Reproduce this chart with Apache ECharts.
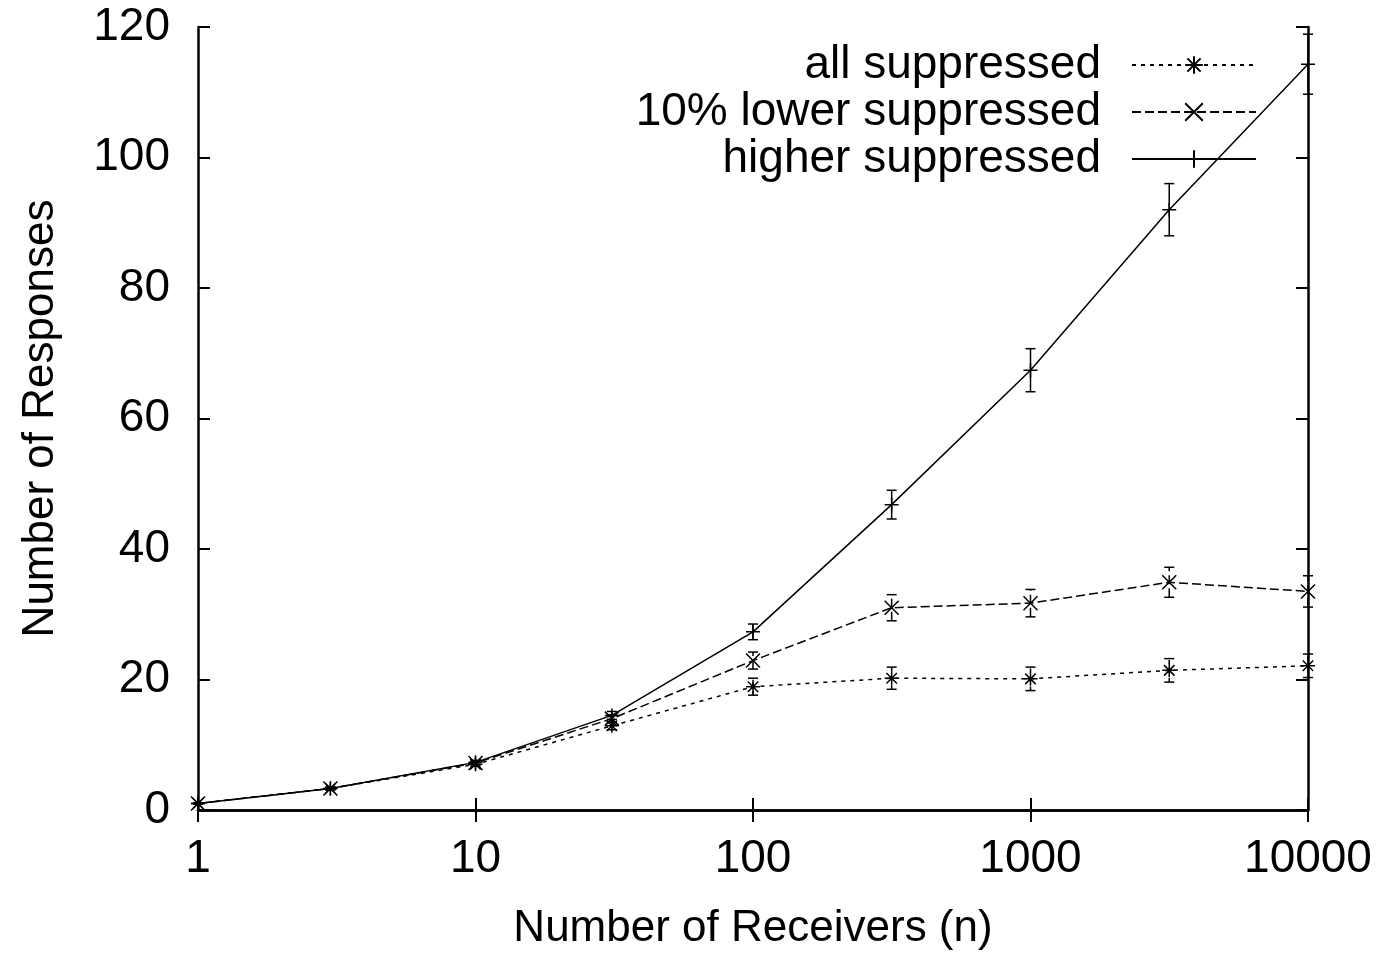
<!DOCTYPE html>
<html>
<head>
<meta charset="utf-8">
<script src="https://cdn.jsdelivr.net/npm/echarts@6/dist/echarts.min.js"></script>
<style>
html,body{margin:0;padding:0;background:#fff;}
#chart{width:1380px;height:956px;}
</style>
</head>
<body>
<div id="chart"></div>
<script>
// ---- data ----
const receivers = [1, 3, 10, 31, 100, 316, 1000, 3162, 10000];
const xTicks = [1, 10, 100, 1000, 10000];
const seriesNames = ['all suppressed', '10% lower suppressed', 'higher suppressed'];
const allSuppressed   = [1.0, 3.3, 7.0, 12.9, 18.9, 20.2, 20.1, 21.4, 22.1];
const allErr          = [0.1, 0.2, 0.3, 0.6, 1.3, 1.7, 1.8, 1.8, 1.8];
const lowerSuppressed = [1.0, 3.3, 7.2, 14.0, 22.9, 31.0, 31.7, 34.9, 33.5];
const lowerErr        = [0.1, 0.2, 0.3, 0.6, 1.3, 2.0, 2.1, 2.3, 2.4];
const higherSuppressed= [1.0, 3.3, 7.3, 14.5, 27.3, 46.8, 67.4, 92.0, 114.3];
const higherErr       = [0.1, 0.2, 0.3, 0.6, 1.2, 2.2, 3.3, 4.0, 4.6];
const yTicks = [0, 20, 40, 60, 80, 100, 120];

const FONT = '"Liberation Sans", Arial, Helvetica, sans-serif';
const FS = 46;     // tick labels and legend
const FS_T = 44;   // axis titles
const dotted = [4, 5];
const dashed = [9, 4];

const asterisk = 'path://M0,6L12,6M6,0L6,12M1.5,1.5L10.5,10.5M10.5,1.5L1.5,10.5';
const cross = 'path://M0,0L12,12M12,0L0,12';
const plus = 'path://M0,6L12,6M6,0L6,12';

function pairs(ys){ return receivers.map((x,i)=>[x, ys[i]]); }
function errData(ys, es){ return receivers.map((x,i)=>[x, ys[i]-es[i], ys[i]+es[i]]); }

function errSeries(name, ys, es, dash){
  return {
    type: 'custom',
    name: name + ' err',
    xAxisIndex: 0, yAxisIndex: 0,
    silent: true,
    z: 3,
    data: errData(ys, es),
    renderItem: function(params, api){
      const x = api.value(0);
      const lo = api.coord([x, api.value(1)]);
      const hi = api.coord([x, api.value(2)]);
      const w = 5;
      const style = {stroke: '#000', lineWidth: 1.5, lineDash: dash, fill: null};
      return {
        type: 'group',
        children: [
          {type:'line', shape:{x1:lo[0], y1:lo[1], x2:hi[0], y2:hi[1]}, style: style},
          {type:'line', shape:{x1:hi[0]-w, y1:hi[1], x2:hi[0]+w, y2:hi[1]}, style: {stroke:'#000', lineWidth:1.5}},
          {type:'line', shape:{x1:lo[0]-w, y1:lo[1], x2:lo[0]+w, y2:lo[1]}, style: {stroke:'#000', lineWidth:1.5}}
        ]
      };
    }
  };
}

function lineSeries(name, ys, dash, sym){
  return {
    type: 'line',
    name: name,
    xAxisIndex: 0, yAxisIndex: 0,
    data: pairs(ys),
    symbol: sym,
    symbolSize: 14,
    showAllSymbol: true,
    z: 4,
    lineStyle: {color: '#000', width: 1.5, type: dash},
    itemStyle: {color: 'rgba(0,0,0,0)', borderColor: '#000', borderWidth: 1.5}
  };
}

function legendFor(name, top){
  return {
    data: [name],
    right: 123,
    top: top,
    orient: 'vertical',
    align: 'right',
    itemWidth: 124,
    itemHeight: 22,
    padding: 0,
    selectedMode: false,
    textStyle: {fontFamily: FONT, fontSize: FS, color: '#000', padding: [0, 26, 0, 0]}
  };
}

const chart = echarts.init(document.getElementById('chart'), null, {renderer: 'canvas'});
const axisLineStyle = {color: '#000', width: 2.5};
chart.setOption({
  animation: false,
  backgroundColor: '#fff',
  grid: {left: 198, right: 72, top: 27, bottom: 146, containLabel: false},
  legend: [legendFor(seriesNames[0], 42), legendFor(seriesNames[1], 89), legendFor(seriesNames[2], 136)],
  xAxis: [{
    type: 'log', logBase: 10, min: 1, max: 10000, position: 'bottom',
    name: 'Number of Receivers (n)', nameLocation: 'middle', nameGap: 97,
    nameTextStyle: {fontFamily: FONT, fontSize: FS_T, color: '#000'},
    axisLine: {show: true, lineStyle: axisLineStyle},
    axisTick: {show: true, inside: true, length: 12, lineStyle: {color: '#000', width: 2}},
    minorTick: {show: false},
    splitLine: {show: false},
    axisLabel: {fontFamily: FONT, fontSize: FS, color: '#000', margin: 26,
      formatter: function(v){ const r = Math.round(v); return xTicks.indexOf(r) >= 0 ? String(r) : ''; }}
  }, {
    type: 'log', logBase: 10, min: 1, max: 10000, position: 'top',
    axisLine: {show: true, lineStyle: axisLineStyle},
    axisTick: {show: true, inside: true, length: 12, lineStyle: {color: '#000', width: 2}},
    axisLabel: {show: false}, splitLine: {show: false}
  }],
  yAxis: [{
    type: 'value', min: yTicks[0], max: yTicks[yTicks.length-1], interval: 20, position: 'left',
    name: 'Number of Responses', nameLocation: 'middle', nameGap: 135,
    nameTextStyle: {fontFamily: FONT, fontSize: FS_T, color: '#000'},
    axisLine: {show: true, lineStyle: axisLineStyle},
    axisTick: {show: true, inside: true, length: 12, lineStyle: {color: '#000', width: 2}},
    splitLine: {show: false},
    axisLabel: {fontFamily: FONT, fontSize: FS, color: '#000', margin: 28}
  }, {
    type: 'value', min: yTicks[0], max: yTicks[yTicks.length-1], interval: 20, position: 'right',
    axisLine: {show: true, lineStyle: axisLineStyle},
    axisTick: {show: true, inside: true, length: 12, lineStyle: {color: '#000', width: 2}},
    axisLabel: {show: false}, splitLine: {show: false}
  }],
  series: [
    errSeries(seriesNames[0], allSuppressed, allErr, dotted),
    errSeries(seriesNames[1], lowerSuppressed, lowerErr, dashed),
    errSeries(seriesNames[2], higherSuppressed, higherErr, null),
    lineSeries(seriesNames[0], allSuppressed, dotted, asterisk),
    lineSeries(seriesNames[1], lowerSuppressed, dashed, cross),
    lineSeries(seriesNames[2], higherSuppressed, 'solid', plus)
  ]
});
</script>
</body>
</html>
